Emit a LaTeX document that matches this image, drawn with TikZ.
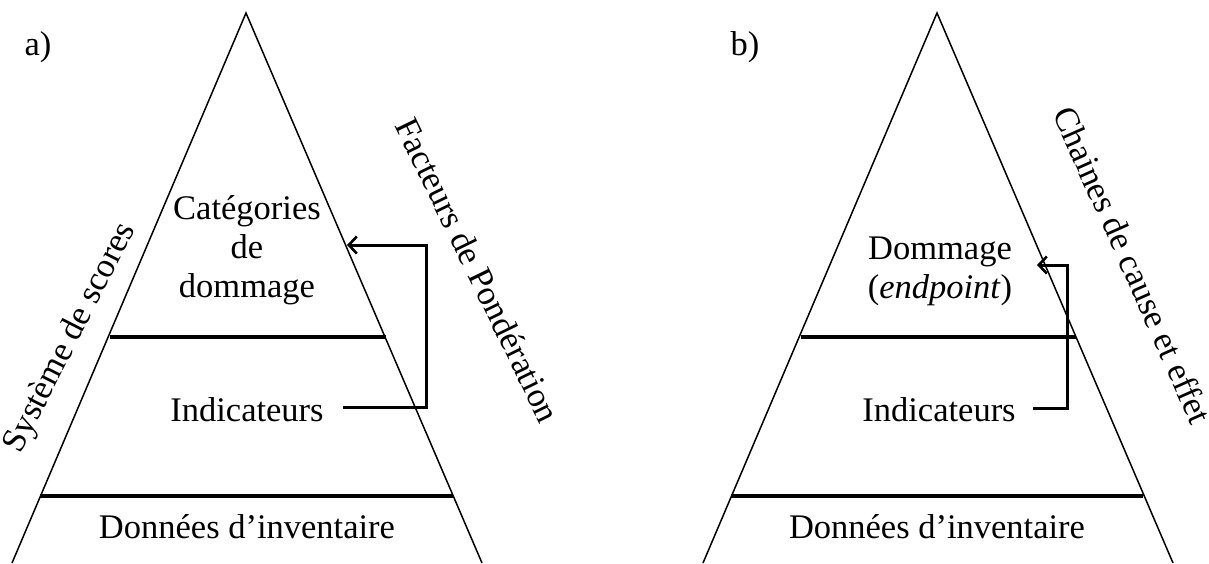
\documentclass[tikz,border=0pt]{standalone}
\usepackage{fontspec}
\setmainfont{Liberation Serif}
\usetikzlibrary{arrows.meta}
\begin{document}
\begin{tikzpicture}[x=1pt,y=-1pt,
  lbl/.style={font=\fontsize{34.5}{39}\selectfont, inner sep=0pt, align=center},
  side/.style={line width=1.5pt},
  level/.style={line width=3.2pt},
  link/.style={line width=3pt, -{Straight Barb[length=8pt,width=17pt,line width=2.6pt]}}]
\useasboundingbox (0,0) rectangle (1209,563);

% ---------- pyramid a) ----------
\coordinate (aTop) at (246,13);
\coordinate (aBL) at (12,563);
\coordinate (aBR) at (482,563);
\draw[side] (aBL) -- (aTop) -- (aBR);
\coordinate (aL1) at (110,337);
\coordinate (aR1) at (386,337);
\coordinate (aL2) at (40,496);
\coordinate (aR2) at (453,496);
\draw[level] (aL1) -- (aR1);
\draw[level] (aL2) -- (aR2);

\node[lbl, anchor=base] (aLab) at (38,55) {a)};
\node[lbl] (aCat) at (247,250) {Catégories\\de\\dommage};
\node[lbl, anchor=base] (aInd) at (247,421) {Indicateurs};
\node[lbl, anchor=base] (aInv) at (247,538) {Données d’inventaire};
\node[lbl, rotate=63] (aScore) at (71,338) {Système de scores};
\node[lbl, rotate=-64] (aPond) at (478,270) {Facteurs de Pondération};

\coordinate (aStart) at (343,407);
\coordinate (aCorner1) at (426,407);
\coordinate (aCorner2) at (426,245);
\coordinate (aEnd) at (347,245);
\draw[link] (aStart) -- (aCorner1) -- (aCorner2) -- (aEnd);

% ---------- pyramid b) ----------
\coordinate (bTop) at (937,13);
\coordinate (bBL) at (703,563);
\coordinate (bBR) at (1173,563);
\draw[side] (bBL) -- (bTop) -- (bBR);
\coordinate (bL1) at (801,337);
\coordinate (bR1) at (1076,337);
\coordinate (bL2) at (731,496);
\coordinate (bR2) at (1143,496);
\draw[level] (bL1) -- (bR1);
\draw[level] (bL2) -- (bR2);

\node[lbl, anchor=base] (bLab) at (745,55) {b)};
\node[lbl] (bDom) at (940,271) {Dommage\\(\textit{endpoint})};
\node[lbl, anchor=base] (bInd) at (939,421) {Indicateurs};
\node[lbl, anchor=base] (bInv) at (937,538) {Données d’inventaire};
\node[lbl, rotate=-66] (bChain) at (1133,265) {Chaines de cause et effet};

\coordinate (bStart) at (1033,408);
\coordinate (bCorner1) at (1067,408);
\coordinate (bCorner2) at (1067,265);
\coordinate (bEnd) at (1037,265);
\draw[link] (bStart) -- (bCorner1) -- (bCorner2) -- (bEnd);
\end{tikzpicture}
\end{document}
